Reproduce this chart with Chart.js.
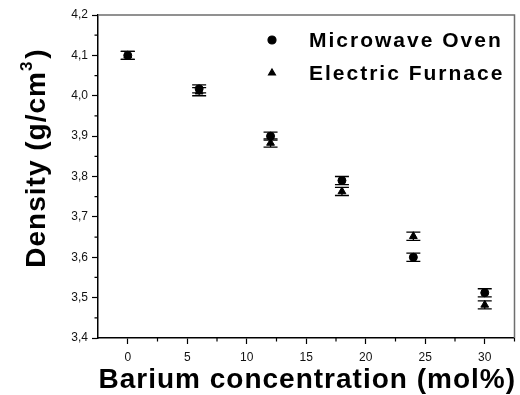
<!DOCTYPE html>
<html>
<head>
<meta charset="utf-8">
<script src="https://cdn.jsdelivr.net/npm/chart.js@4"></script>
<style>
  body { margin: 0; background: #fff; }
  canvas { display: block; }
</style>
</head>
<body>
<canvas id="chart" width="520" height="395"></canvas>
<script>
// data
const concentration = [0, 6, 12, 18, 24, 30];
const microwaveOven = [4.10, 4.017, 3.90, 3.79, 3.60, 3.512];
const microwaveErr = [0.01, 0.01, 0.01, 0.01, 0.01, 0.01];
const electricFurnace = [4.10, 4.010, 3.883, 3.763, 3.652, 3.482];
const electricErr = [0.01, 0.01, 0.01, 0.01, 0.01, 0.01];

const xTicks = [0, 5, 10, 15, 20, 25, 30];
const xTickLabels = ["0", "5", "10", "15", "20", "25", "30"];
const xMinorTicks = [2.5, 7.5, 12.5, 17.5, 22.5, 27.5, 32.5];
const yTicks = [3.4, 3.5, 3.6, 3.7, 3.8, 3.9, 4.0, 4.1, 4.2];
const yTickLabels = ["3,4", "3,5", "3,6", "3,7", "3,8", "3,9", "4,0", "4,1", "4,2"];
const yMinorTicks = [3.45, 3.55, 3.65, 3.75, 3.85, 3.95, 4.05, 4.15];

const seriesNames = ["Microwave Oven", "Electric Furnace"];
const FONT = "'Liberation Sans', Arial, Helvetica, sans-serif";

function points(ys) {
  return concentration.map((x, i) => ({ x: x, y: ys[i] }));
}

// error bars, frame, minor ticks, titles and legend
const extras = {
  id: "extras",
  beforeDatasetsDraw(chart) {
    const ctx = chart.ctx;
    const xs = chart.scales.x;
    const ys = chart.scales.y;
    const sets = [[microwaveOven, microwaveErr], [electricFurnace, electricErr]];
    ctx.save();
    ctx.strokeStyle = "#000";
    ctx.lineWidth = 1.3;
    sets.forEach(([vals, errs]) => {
      vals.forEach((v, i) => {
        const px = xs.getPixelForValue(concentration[i]);
        const top = ys.getPixelForValue(v + errs[i]);
        const bot = ys.getPixelForValue(v - errs[i]);
        ctx.beginPath();
        ctx.moveTo(px, top); ctx.lineTo(px, bot);
        ctx.moveTo(px - 7, top); ctx.lineTo(px + 7, top);
        ctx.moveTo(px - 7, bot); ctx.lineTo(px + 7, bot);
        ctx.stroke();
      });
    });
    ctx.restore();
  },
  afterDraw(chart) {
    const ctx = chart.ctx;
    const a = chart.chartArea;
    const xs = chart.scales.x;
    const ys = chart.scales.y;
    ctx.save();

    // top and right frame
    ctx.strokeStyle = "#6e6e6e";
    ctx.lineWidth = 1.5;
    ctx.beginPath();
    ctx.moveTo(a.left, a.top); ctx.lineTo(a.right, a.top); ctx.lineTo(a.right, a.bottom);
    ctx.stroke();

    // minor ticks
    ctx.strokeStyle = "#000";
    ctx.lineWidth = 1.2;
    ctx.beginPath();
    xMinorTicks.forEach(v => {
      const px = xs.getPixelForValue(v);
      ctx.moveTo(px, a.bottom); ctx.lineTo(px, a.bottom + 3.5);
    });
    yMinorTicks.forEach(v => {
      const py = ys.getPixelForValue(v);
      ctx.moveTo(a.left, py); ctx.lineTo(a.left - 3.5, py);
    });
    ctx.stroke();

    // axis titles
    ctx.fillStyle = "#000";
    ctx.textBaseline = "alphabetic";
    ctx.font = "bold 28px " + FONT;
    ctx.letterSpacing = "1px";
    ctx.textAlign = "center";
    ctx.fillText("Barium concentration (mol%)", (a.left + a.right) / 2 + 1, 388);

    ctx.translate(45, 158);
    ctx.rotate(-Math.PI / 2);
    ctx.textAlign = "left";
    const p1 = "Density (g/cm";
    const p3 = ")";
    const w1 = ctx.measureText(p1).width;
    const w3 = ctx.measureText(p3).width;
    ctx.font = "bold 17px " + FONT;
    const w2 = ctx.measureText("3").width + 2;
    const start = -(w1 + w2 + w3) / 2;
    ctx.fillText("3", start + w1, -13);
    ctx.font = "bold 28px " + FONT;
    ctx.fillText(p1, start, 0);
    ctx.fillText(p3, start + w1 + w2, 0);
    ctx.setTransform(1, 0, 0, 1, 0, 0);

    // legend
    const styles = ["circle", "triangle"];
    const rowsY = [40, 73];
    ctx.font = "bold 21px " + FONT;
    ctx.letterSpacing = "2px";
    ctx.textAlign = "left";
    ctx.textBaseline = "middle";
    seriesNames.forEach((name, i) => {
      ctx.fillStyle = "#000";
      ctx.strokeStyle = "#000";
      Chart.helpers.drawPoint(ctx, { pointStyle: styles[i], radius: 4, borderWidth: 1, rotation: 0 }, 272, rowsY[i]);
      ctx.fillText(name, 309, rowsY[i] + 1);
    });
    ctx.restore();
  }
};

new Chart(document.getElementById("chart"), {
  type: "scatter",
  data: {
    datasets: [
      {
        label: seriesNames[0],
        data: points(microwaveOven),
        pointStyle: "circle",
        pointRadius: 4,
        backgroundColor: "#000",
        borderColor: "#000",
        borderWidth: 1
      },
      {
        label: seriesNames[1],
        data: points(electricFurnace),
        pointStyle: "triangle",
        pointRadius: 4.5,
        backgroundColor: "#000",
        borderColor: "#000",
        borderWidth: 1
      }
    ]
  },
  options: {
    responsive: false,
    animation: false,
    layout: { padding: { top: 15, right: 3, left: 0, bottom: 0 } },
    plugins: { legend: { display: false }, tooltip: { enabled: false } },
    scales: {
      x: {
        type: "linear",
        min: -2.5,
        max: 32.5,
        afterBuildTicks: s => { s.ticks = xTicks.map(v => ({ value: v })); },
        afterFit: s => { s.height = 57; },
        ticks: {
          callback: (v) => xTickLabels[xTicks.indexOf(v)],
          color: "#111",
          font: { family: FONT, size: 12 },
          padding: 6,
          maxRotation: 0
        },
        grid: { drawOnChartArea: false, tickLength: 6, tickColor: "#000", tickWidth: 1.2 },
        border: { color: "#000", width: 1.5 }
      },
      y: {
        type: "linear",
        min: 3.4,
        max: 4.2,
        afterBuildTicks: s => { s.ticks = yTicks.map(v => ({ value: v })); },
        afterFit: s => { s.width = 98; },
        ticks: {
          callback: (v) => yTickLabels[yTicks.findIndex(t => Math.abs(t - v) < 1e-6)],
          color: "#111",
          font: { family: FONT, size: 12 },
          padding: 4
        },
        grid: { drawOnChartArea: false, tickLength: 6, tickColor: "#000", tickWidth: 1.2 },
        border: { color: "#000", width: 1.5 }
      }
    }
  },
  plugins: [extras]
});
</script>
</body>
</html>
